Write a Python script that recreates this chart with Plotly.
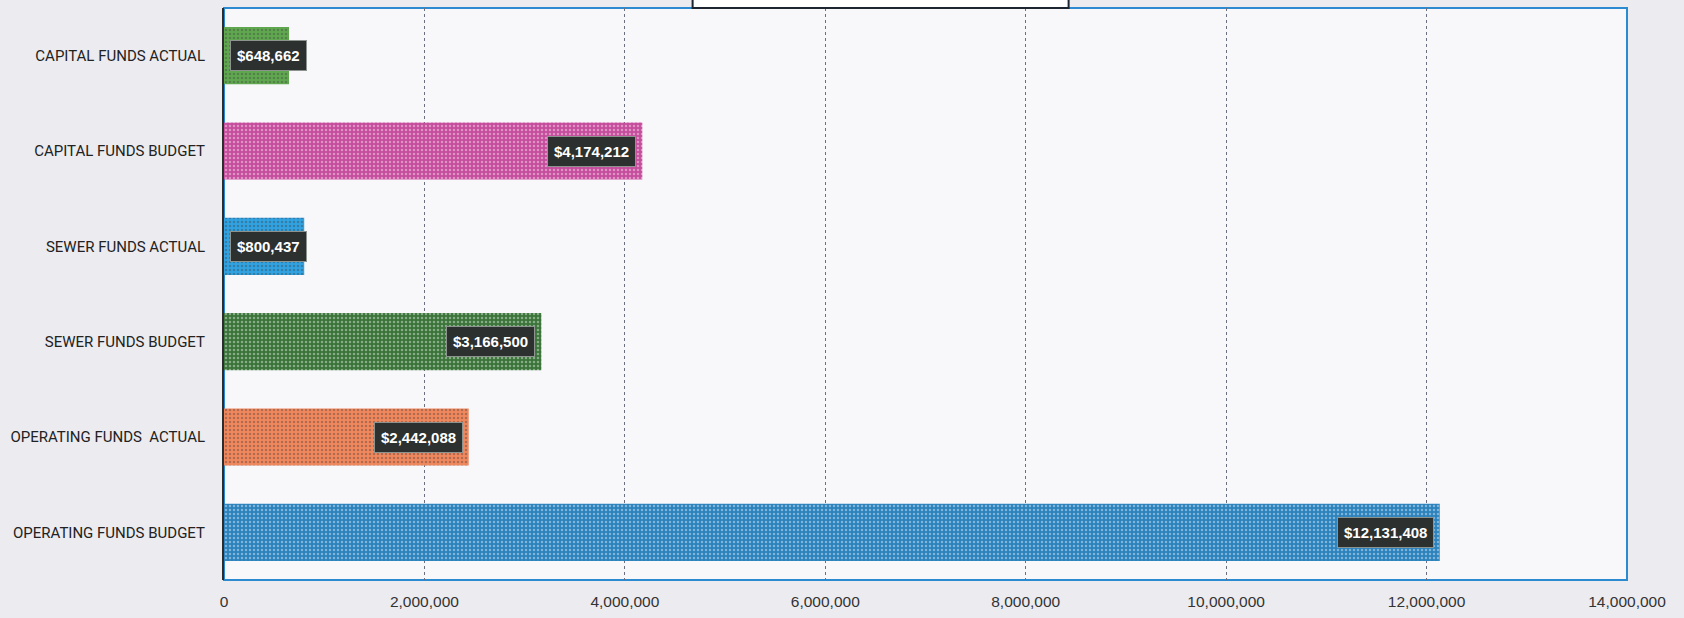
"""Horizontal bar chart of fund budgets vs. actuals with boxed value labels."""

import plotly.graph_objects as go

categories = [
    "CAPITAL FUNDS ACTUAL",
    "CAPITAL FUNDS BUDGET",
    "SEWER FUNDS ACTUAL",
    "SEWER FUNDS BUDGET",
    "OPERATING FUNDS  ACTUAL",
    "OPERATING FUNDS BUDGET",
]
values = [648662, 4174212, 800437, 3166500, 2442088, 12131408]
bar_colors = ["#5fa84e", "#c64c9c", "#2fa3e3", "#3a7439", "#f2875c", "#2b82bd"]
tick_vals = [0, 2000000, 4000000, 6000000, 8000000, 10000000, 12000000, 14000000]

LABEL_FONT = "Liberation Sans Narrow, Roboto, Arial, sans-serif"
BORDER_BLUE = "#2b8ad0"

fig = go.Figure(
    go.Bar(
        x=values,
        y=categories,
        orientation="h",
        marker=dict(
            color=bar_colors,
            line=dict(width=0),
            pattern=dict(shape=".", fgcolor="white", fgopacity=0.4, size=4, solidity=0.3),
        ),
        hoverinfo="skip",
    )
)

# boxed value labels: right end of the bar, or at the axis when the bar is short
for cat, val in zip(categories, values):
    short = val < 1500000
    fig.add_annotation(
        x=0 if short else val,
        y=cat,
        xanchor="left" if short else "right",
        xshift=6 if short else -6,
        text=f"${val:,}",
        showarrow=False,
        font=dict(family="Liberation Sans, Arial, sans-serif", size=15, color="white", weight="bold"),
        bgcolor="#2c312f",
        bordercolor="#8d948f",
        borderwidth=1,
        borderpad=6,
    )

# border around plot area (blue) and the cut-off title box at the top
fig.add_shape(type="rect", xref="paper", yref="paper", x0=0, x1=1, y0=0, y1=1,
              line=dict(color=BORDER_BLUE, width=2), layer="below")
fig.add_shape(type="rect", xref="paper", yref="paper", x0=0.334, x1=0.602, y0=1.0, y1=1.3,
              line=dict(color="#1d2530", width=2), fillcolor="white", layer="above")

fig.update_layout(
    width=1684,
    height=618,
    margin=dict(l=224, r=57, t=8, b=35),
    paper_bgcolor="#ebebf0",
    plot_bgcolor="#f8f8fb",
    bargap=0.4,
    showlegend=False,
    xaxis=dict(
        range=[0, 14000000],
        tickvals=tick_vals,
        tickformat=",",
        showgrid=True,
        gridcolor="#6b7080",
        griddash="dot",
        gridwidth=1,
        zeroline=False,
        showline=False,
        ticks="",
        ticklabelstandoff=10,
        tickfont=dict(family="Liberation Sans, Arial, sans-serif", size=15.5, color="#333333"),
    ),
    yaxis=dict(
        autorange="reversed",
        showgrid=False,
        showline=True,
        linecolor="#2a2f2d",
        linewidth=2,
        ticks="",
        ticklabelstandoff=14,
        tickfont=dict(family=LABEL_FONT, size=15, color="#222222"),
    ),
)

fig.write_html(
    "out.html",
    config={"displayModeBar": False},
    post_script="document.body.style.margin='0';document.body.style.background='#ebebf0';",
)
